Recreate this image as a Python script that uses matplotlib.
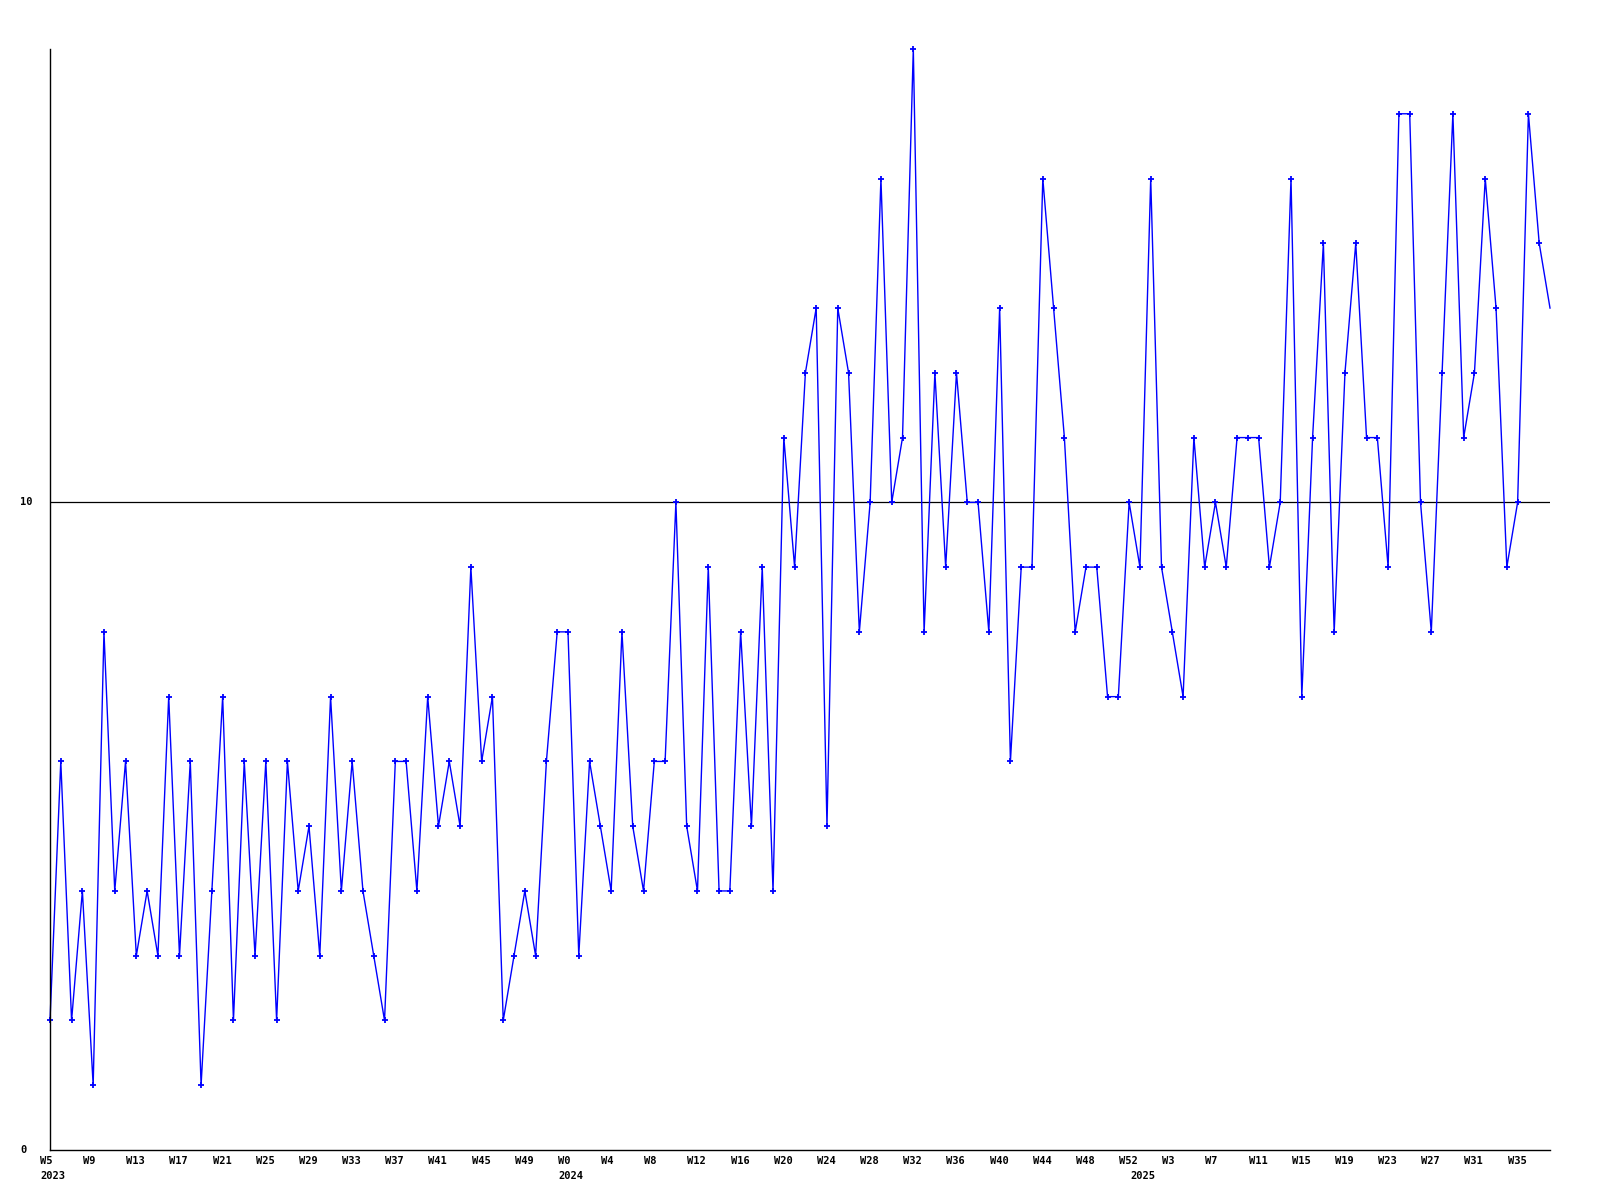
import matplotlib
matplotlib.use("Agg")
import matplotlib.pyplot as plt
from matplotlib.transforms import offset_copy, blended_transform_factory

# weekly counts
weeks_2023 = list(range(5, 53))
values_2023 = [2, 6, 2, 4, 1, 8, 4, 6, 3, 4, 3, 7, 3, 6, 1, 4, 7, 2, 6, 3,
               6, 2, 6, 4, 5, 3, 7, 4, 6, 4, 3, 2, 6, 6, 4, 7, 5, 6, 5, 9,
               6, 7, 2, 3, 4, 3, 6, 8]
weeks_2024 = list(range(0, 53))
values_2024 = [8, 3, 6, 5, 4, 8, 5, 4, 6, 6, 10, 5, 4, 9, 4, 4, 8, 5, 9, 4,
               11, 9, 12, 13, 5, 13, 12, 8, 10, 15, 10, 11, 17, 8, 12, 9, 12, 10, 10, 8,
               13, 6, 9, 9, 15, 13, 11, 8, 9, 9, 7, 7, 10]
weeks_2025 = list(range(0, 39))
values_2025 = [9, 15, 9, 8, 7, 11, 9, 10, 9, 11, 11, 11, 9, 10, 15, 7, 11, 14, 8, 12,
               14, 11, 11, 9, 16, 16, 10, 8, 12, 16, 11, 12, 15, 13, 9, 10, 16, 14, 13]

years = [2023, 2024, 2025]
weeks = weeks_2023 + weeks_2024 + weeks_2025
values = values_2023 + values_2024 + values_2025
year_start = [0, len(weeks_2023), len(weeks_2023) + len(weeks_2024)]
x = list(range(len(values)))

fig = plt.figure(figsize=(16, 12), dpi=100)
ax = fig.add_axes([50 / 1600, 1 - 1150 / 1200, 1500 / 1600, 1101 / 1200])

ax.plot(x, values, color="#0000ff", lw=1.0, marker="+", ms=4.5, mew=1.3,
        markevery=list(range(len(values) - 1)), clip_on=False)
ax.axhline(10, color="black", lw=0.9, zorder=0)

ax.set_xlim(0, len(values) - 1)
ax.set_ylim(0, 17)
for s in ["top", "right"]:
    ax.spines[s].set_visible(False)
for s in ["left", "bottom"]:
    ax.spines[s].set_linewidth(1)
ax.set_xticks([])
ax.set_yticks([])

font = dict(family="DejaVu Sans Mono", weight="bold", size=7.5)

# y labels
ytr = blended_transform_factory(fig.transFigure, ax.transData)
for v in [0, 10]:
    ax.text(20 / 1600, v, str(v), transform=ytr, ha="left", va="center", **font)

# week and year labels
xtr = blended_transform_factory(ax.transData, ax.transAxes)
wtr = offset_copy(xtr, fig=fig, x=-10, y=-6, units="dots")
ytr2 = offset_copy(xtr, fig=fig, x=-10, y=-21, units="dots")
for i in range(0, len(weeks), 4):
    ax.text(i, 0, "W" + str(weeks[i]), transform=wtr, ha="left", va="top",
            clip_on=False, **font)
for yr, i in zip(years, year_start):
    ax.text(i, 0, str(yr), transform=ytr2, ha="left", va="top",
            clip_on=False, **font)

fig.savefig("out.png", dpi=100)
